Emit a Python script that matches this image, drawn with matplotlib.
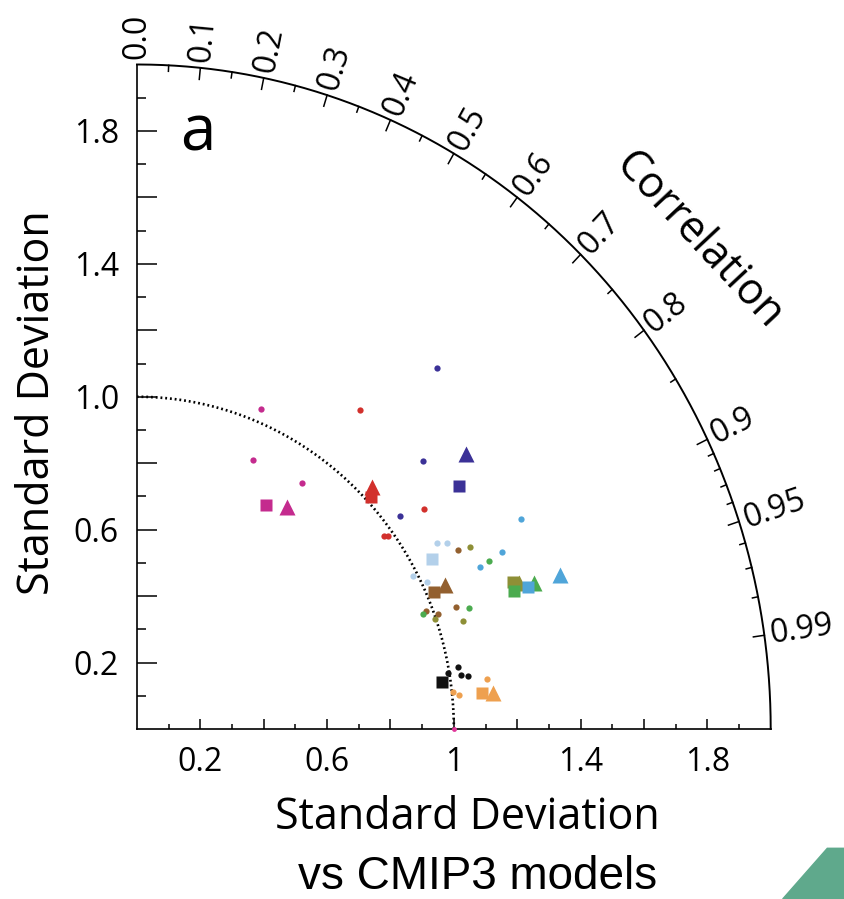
# Taylor diagram, panel a: models vs CMIP3
import numpy as np
import matplotlib.pyplot as plt
from matplotlib.patches import Polygon

# DATA (x = sd * corr, y = sd * sqrt(1 - corr^2))
groups = ["magenta", "red", "navy", "lightblue", "brown",
          "olive", "green", "skyblue", "black", "orange"]
colors = ["#c42b8e", "#d2302c", "#3b3197", "#b3d0ea", "#93602f",
          "#8e8f36", "#4bab4f", "#4fa5d9", "#111111", "#eea04f"]

dot_x = [[0.390, 0.365, 0.521],
         [0.705, 0.905, 0.778, 0.793],
         [0.948, 0.903, 0.830],
         [0.948, 0.978, 0.870, 0.914],
         [1.014, 1.006, 0.911, 0.949],
         [1.051, 0.941, 1.028],
         [1.112, 1.048, 0.904],
         [1.213, 1.152, 1.083],
         [1.014, 0.983, 1.022, 1.044],
         [1.104, 0.998, 1.017]]
dot_y = [[0.963, 0.810, 0.739],
         [0.959, 0.663, 0.582, 0.581],
         [1.088, 0.807, 0.642],
         [0.559, 0.559, 0.460, 0.441],
         [0.539, 0.368, 0.355, 0.345],
         [0.547, 0.331, 0.325],
         [0.505, 0.365, 0.345],
         [0.632, 0.532, 0.488],
         [0.187, 0.168, 0.163, 0.160],
         [0.150, 0.112, 0.102]]

square_x = [0.406, 0.738, 1.017, 0.930, 0.938, 1.186, 1.191, 1.235, 0.962, 1.088]
square_y = [0.675, 0.699, 0.731, 0.511, 0.413, 0.443, 0.416, 0.428, 0.142, 0.109]

tri_x = [0.474, 0.743, 1.039, np.nan, 0.972, 1.205, 1.254, 1.335, np.nan, 1.125]
tri_y = [0.669, 0.729, 0.828, np.nan, 0.433, 0.440, 0.438, 0.463, np.nan, 0.109]

ref_sd = 1.0
corr_major = [0.0, 0.1, 0.2, 0.3, 0.4, 0.5, 0.6, 0.7, 0.8, 0.9, 0.95, 0.99]
corr_labels = ["0.0", "0.1", "0.2", "0.3", "0.4", "0.5", "0.6", "0.7",
               "0.8", "0.9", "0.95", "0.99"]
corr_minor = [0.05, 0.15, 0.25, 0.35, 0.45, 0.55, 0.65, 0.75, 0.85,
              0.91, 0.92, 0.93, 0.94, 0.96, 0.97, 0.98]

x_tick_labels = ["0.2", "", "0.6", "", "1", "", "1.4", "", "1.8"]
y_tick_labels = ["0.2", "", "0.6", "", "1.0", "", "1.4", "", "1.8"]

plt.rcParams['font.family'] = ['Open Sans', 'DejaVu Sans']

# FIGURE
W, H = 844, 899
fig = plt.figure(figsize=(W / 100, H / 100), dpi=100)
ax_w, ax_h = 633.7 / W, 664.5 / H
ax = fig.add_axes([137 / W, 170 / H, ax_w, ax_h])
ax.set_xlim(0, 2)
ax.set_ylim(0, 2)
for s in ["top", "right"]:
    ax.spines[s].set_visible(False)
for s in ["left", "bottom"]:
    ax.spines[s].set_linewidth(1.2)

# axis ticks
ax.set_xticks(np.arange(0.2, 1.81, 0.2))
ax.set_xticklabels(x_tick_labels)
ax.set_xticks(np.arange(0.1, 2.0, 0.2), minor=True)
ax.set_yticks(np.arange(0.2, 1.81, 0.2))
ax.set_yticklabels(y_tick_labels)
ax.set_yticks(np.arange(0.1, 2.0, 0.2), minor=True)
ax.tick_params(axis="x", which="major", direction="in", length=7, width=1.1, pad=12, labelsize=23)
ax.tick_params(axis="x", which="minor", direction="in", length=3.5, width=1.1)
ax.tick_params(axis="y", which="major", direction="in", length=14.4, width=1.1, pad=13, labelsize=23)
ax.tick_params(axis="y", which="minor", direction="in", length=6.5, width=1.1)

# outer arc and reference arc
th = np.linspace(0, np.pi / 2, 500)
ax.plot(2 * np.cos(th), 2 * np.sin(th), color="k", lw=1.4, clip_on=False)
ax.plot(ref_sd * np.cos(th), ref_sd * np.sin(th), color="k", lw=1.9,
        ls=(0, (0.7, 1.1)), zorder=2)

# correlation ticks and labels
sx, sy = W * ax_w / 2, H * ax_h / 2  # px per unit
for c in corr_minor + corr_major:
    t = np.arccos(c)
    ln = 0.035 if c in corr_major else 0.018
    if c > 0:
        ax.plot([2 * np.cos(t), (2 - ln) * np.cos(t)],
                [2 * np.sin(t), (2 - ln) * np.sin(t)],
                color="k", lw=1.1, clip_on=False)
for c, lab in zip(corr_major, corr_labels):
    t = np.arccos(c)
    phi = np.arctan2(sy * np.sin(t), sx * np.cos(t))
    d = 4
    ax.annotate(lab, (2 * np.cos(t), 2 * np.sin(t)),
                xytext=(d * np.cos(phi), d * np.sin(phi)), textcoords="offset points",
                rotation=np.degrees(phi), rotation_mode="anchor",
                ha="left", va="center", fontsize=23, annotation_clip=False)

# model points
for i, g in enumerate(groups):
    ax.plot(dot_x[i], dot_y[i], ls="", marker="o", ms=4.5, color=colors[i],
            mec="none", zorder=3)
for i, g in enumerate(groups):
    ax.plot(square_x[i], square_y[i], ls="", marker="s", ms=9, color=colors[i],
            mec="none", zorder=4)
    ax.plot(tri_x[i], tri_y[i], ls="", marker="^", ms=11, color=colors[i],
            mec="none", zorder=4)

# observation reference point
ax.plot(ref_sd, 0, ls="", marker="o", ms=3.5, color="#e0379a", mec="none",
        clip_on=False, zorder=5)

# texts
ax.text(0.193, 1.742, "a", fontsize=46, ha="center", va="baseline")
fig.text(467 / W, 1 - 829 / H, "Standard Deviation", fontsize=31,
         ha="center", va="baseline")
fig.text(38 / W, 1 - 403 / H, "Standard Deviation", fontsize=31,
         ha="center", va="center", rotation=90)
fig.text(698 / W, 1 - 241 / H, "Correlation", fontsize=31, ha="center",
         va="center", rotation=-47, rotation_mode="anchor")
fig.text(478 / W, 1 - 889 / H, "vs CMIP3 models", fontsize=33,
         family=["Liberation Sans", "DejaVu Sans"], ha="center", va="baseline")

# slide decoration, bottom right
fig.patches.append(Polygon([(782.7 / W, 0), (827.3 / W, 1 - 848.3 / H),
                            (1, 1 - 848.3 / H), (1, 0)],
                           closed=True, transform=fig.transFigure,
                           color="#5fa98c", zorder=0))

fig.savefig("out.png", dpi=100)
